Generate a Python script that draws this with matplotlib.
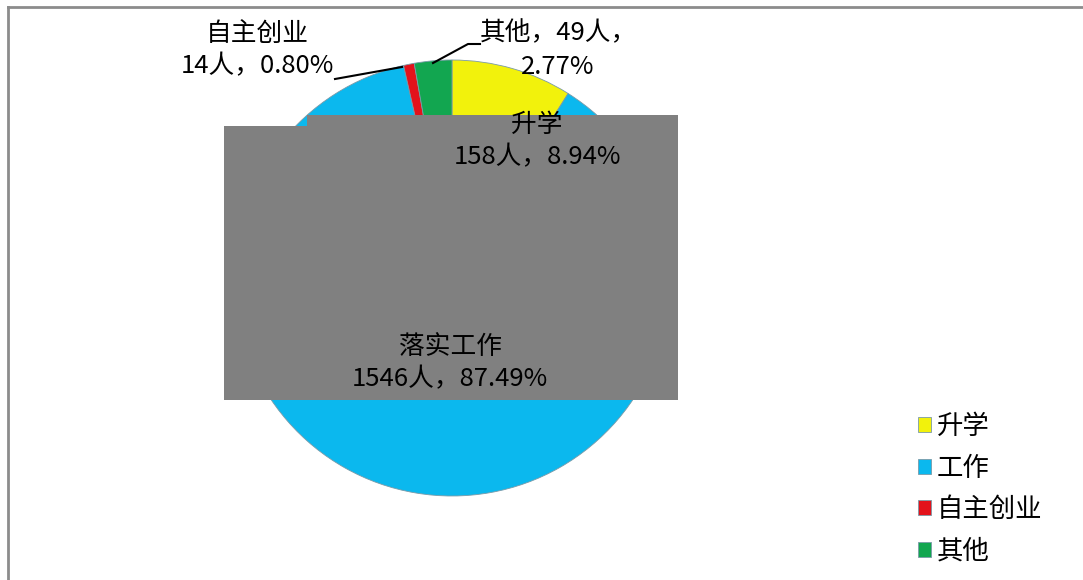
import matplotlib
matplotlib.use("Agg")
import matplotlib.pyplot as plt
from matplotlib.patches import Rectangle

plt.rcParams['font.family'] = ['Noto Sans CJK SC', 'DejaVu Sans']

# 数据
labels = ['升学', '工作', '自主创业', '其他']
counts = [158, 1546, 14, 49]
pcts = [8.94, 87.49, 0.80, 2.77]
colors = ['#F2F20C', '#0BB8EE', '#E3121B', '#12A650']

W, H = 1083, 580
fig = plt.figure(figsize=(W / 100, H / 100), dpi=100)
ax = fig.add_axes([0, 0, 1, 1])

def py(y):
    # 像素坐标（自上而下）转为数据坐标
    return H - y

# 饼图
wedges, _ = ax.pie(counts, colors=colors, startangle=90, counterclock=False,
                   center=(452, py(278)), radius=218,
                   wedgeprops=dict(edgecolor='#7a9aa8', linewidth=0.6))
ax.set_xlim(0, W)
ax.set_ylim(0, H)
ax.set_aspect('equal')
ax.axis('off')

# 灰色遮挡块
ax.add_patch(Rectangle((224, py(400)), 83, 274, facecolor='#808080', edgecolor='none', zorder=3))
ax.add_patch(Rectangle((307, py(400)), 371, 285, facecolor='#808080', edgecolor='none', zorder=3))

# 外框
ax.plot([8, 8], [py(580), py(7)], color='#8c8c8c', lw=2, zorder=5)
ax.plot([8, 1083], [py(7), py(7)], color='#8c8c8c', lw=2, zorder=5)

fs = 18.5
# 数据标签
ax.text(537, py(141), f'{labels[0]}\n{counts[0]}人，{pcts[0]:.2f}%', ha='center', va='center',
        fontsize=fs, linespacing=1.35, zorder=6)
ax.text(450, py(363), f'落实工作\n{counts[1]}人，{pcts[1]:.2f}%', ha='center', va='center',
        fontsize=fs, linespacing=1.35, zorder=6)
ax.text(257, py(50), f'{labels[2]}\n{counts[2]}人，{pcts[2]:.2f}%', ha='center', va='center',
        fontsize=fs, linespacing=1.35, zorder=6)
ax.text(558, py(50), f'{labels[3]}，{counts[3]}人，\n{pcts[3]:.2f}%', ha='center', va='center',
        fontsize=fs, linespacing=1.35, zorder=6)

# 引导线
ax.plot([335, 402], [py(79), py(67)], color='black', lw=1.5, zorder=6)
ax.plot([433, 468, 480], [py(63), py(44), py(44)], color='black', lw=1.5, zorder=6)

# 图例
ax.legend(wedges, labels, loc='upper left', bbox_to_anchor=(905 / W, 1 - 400 / H),
          frameon=False, fontsize=19, handlelength=0.5, handleheight=0.5,
          handletextpad=0.2, labelspacing=0.55, borderpad=0)

fig.savefig('out.png', dpi=100)
